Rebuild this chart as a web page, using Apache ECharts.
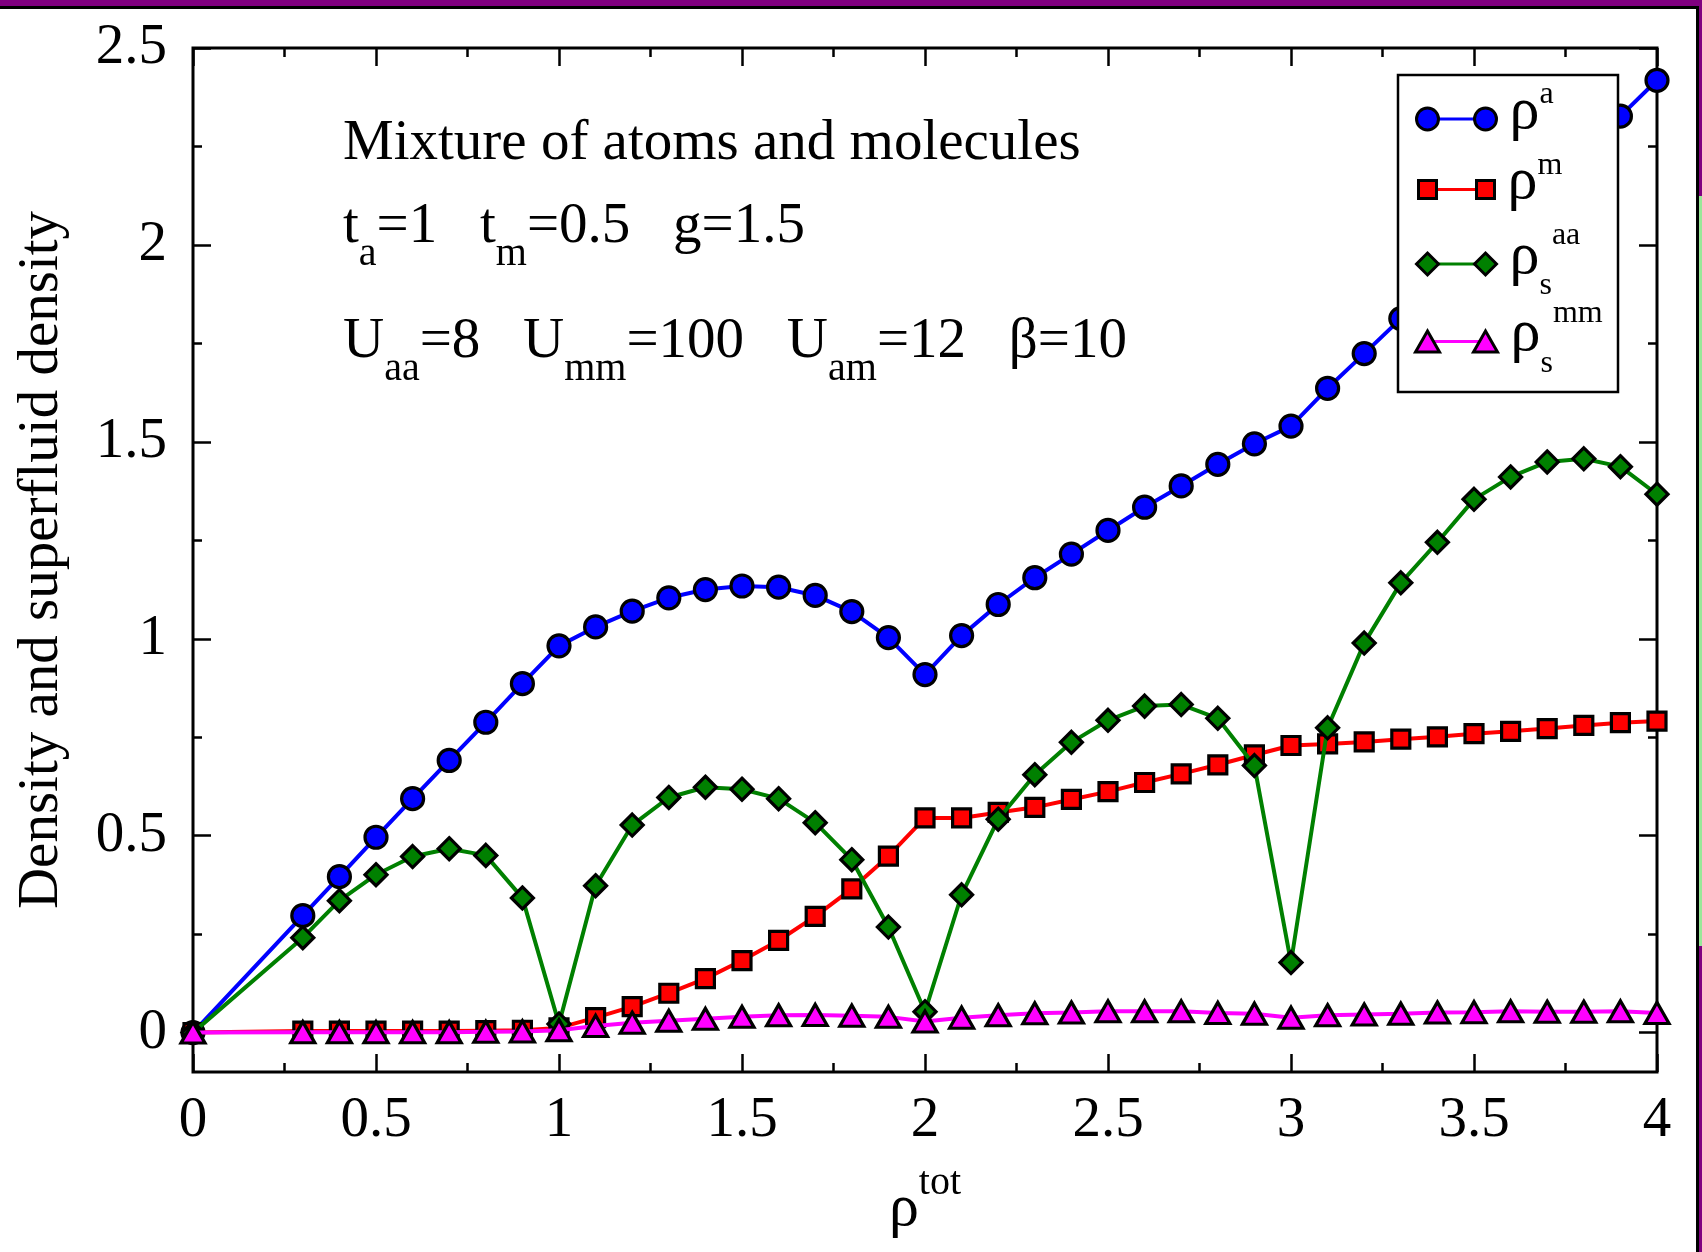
<!DOCTYPE html>
<html><head><meta charset="utf-8">
<script src="https://cdn.jsdelivr.net/npm/echarts@6/dist/echarts.min.js"></script>
<style>html,body{margin:0;padding:0;background:#fff}#c{width:1702px;height:1252px}</style>
</head><body><div id="c"></div>
<script>
// ---- data ----
const xValues = [0, 0.3, 0.4, 0.5, 0.6, 0.7, 0.8, 0.9, 1.0, 1.1, 1.2, 1.3, 1.4, 1.5, 1.6, 1.7, 1.8, 1.9, 2.0,
  2.1, 2.2, 2.3, 2.4, 2.5, 2.6, 2.7, 2.8, 2.9, 3.0, 3.1, 3.2, 3.3, 3.4, 3.5, 3.6, 3.7, 3.8, 3.9, 4.0];
const rhoA = [0, 0.297, 0.396, 0.496, 0.594, 0.691, 0.788, 0.886, 0.982, 1.030, 1.070, 1.104, 1.125, 1.134, 1.131, 1.110, 1.069, 1.003, 0.909,
  1.008, 1.087, 1.155, 1.215, 1.275, 1.334, 1.388, 1.443, 1.495, 1.540, 1.636, 1.724, 1.813, 1.899, 1.985, 2.070, 2.156, 2.240, 2.327, 2.418];
const rhoM = [0, 0.004, 0.004, 0.004, 0.004, 0.004, 0.005, 0.006, 0.012, 0.038, 0.066, 0.100, 0.137, 0.183, 0.234, 0.295, 0.365, 0.448, 0.545,
  0.545, 0.559, 0.572, 0.592, 0.612, 0.635, 0.657, 0.680, 0.705, 0.729, 0.733, 0.738, 0.745, 0.751, 0.759, 0.765, 0.772, 0.780, 0.787, 0.791];
const rhoSaa = [0, 0.241, 0.335, 0.401, 0.447, 0.467, 0.450, 0.342, 0.022, 0.373, 0.527, 0.597, 0.623, 0.618, 0.594, 0.533, 0.439, 0.268, 0.053,
  0.350, 0.542, 0.655, 0.737, 0.793, 0.829, 0.833, 0.798, 0.678, 0.178, 0.774, 0.989, 1.142, 1.245, 1.354, 1.411, 1.449, 1.457, 1.437, 1.367];
const rhoSmm = [0, 0.001, 0.001, 0.001, 0.001, 0.001, 0.002, 0.003, 0.006, 0.017, 0.025, 0.030, 0.035, 0.040, 0.044, 0.045, 0.043, 0.040, 0.028,
  0.038, 0.044, 0.049, 0.051, 0.054, 0.054, 0.054, 0.050, 0.048, 0.038, 0.044, 0.046, 0.048, 0.051, 0.052, 0.054, 0.053, 0.053, 0.054, 0.050];
const yMajorTicks = [0, 0.5, 1, 1.5, 2, 2.5];
const yMinorTicks = [0.25, 0.75, 1.25, 1.75, 2.25];
const seriesNames = ['rho_a', 'rho_m', 'rho_s_aa', 'rho_s_mm'];
const legendLabels = ['{r|ρ}{p|a}', '{r|ρ}{p|m}', '{r|ρ}{b|s}{q|aa}', '{r|ρ}{b|s}{q|mm}'];
const annotationLines = [
  '{n|Mixture of atoms and molecules}',
  '{n|t}{s|a}{n|=1   t}{s|m}{n|=0.5   g=1.5}',
  '{n|U}{s|aa}{n|=8   U}{s|mm}{n|=100   U}{s|am}{n|=12   β=10}'
];
const xTitle = '{r|ρ}{p|tot}';
const yTitle = 'Density and superfluid density';

// ---- styles ----
const F = '"Liberation Serif", "Times New Roman", serif';
const colors = ['#0000ff', '#ff0000', '#008000', '#ff00ff'];
const symbols = ['circle', 'rect', 'diamond', 'triangle'];
const symbolSizes = [22, 18, 22, [24, 21]];
const legendTops = [79, 149.5, 220, 297.5];
const legendIcons = [
  {path: 'path://M0,11A11,11,0,1,1,22,11A11,11,0,1,1,0,11ZM58,11A11,11,0,1,1,80,11A11,11,0,1,1,58,11Z', w: 80, h: 22, left: 1415},
  {path: 'path://M0,0H18V18H0ZM58,0H76V18H58Z', w: 76, h: 18, left: 1417},
  {path: 'path://M11,0L22,11L11,22L0,11ZM69,0L80,11L69,22L58,11Z', w: 80, h: 22, left: 1415},
  {path: 'path://M12,0L24,21L0,21ZM70,0L82,21L58,21Z', w: 82, h: 21, left: 1414}
];

function legendRich(color) {
  return {
    r: {fontFamily: F, fontSize: 60, lineHeight: 60, color, verticalAlign: 'middle', padding: [0, 0, 14, 8]},
    p: {fontFamily: F, fontSize: 32, lineHeight: 60, color, verticalAlign: 'middle', padding: [0, 0, 48, 0]},
    q: {fontFamily: F, fontSize: 32, lineHeight: 60, color, verticalAlign: 'middle', padding: [0, 0, 56, 0]},
    b: {fontFamily: F, fontSize: 32, lineHeight: 60, color, verticalAlign: 'middle', padding: [44, 0, 0, 0]}
  };
}

const allY = [rhoA, rhoM, rhoSaa, rhoSmm];
const series = allY.map((ys, i) => ({
  name: seriesNames[i], type: 'line', xAxisIndex: 0, yAxisIndex: 0,
  data: xValues.map((x, k) => [x, ys[k]]),
  symbol: symbols[i], symbolSize: symbolSizes[i], showAllSymbol: true, clip: false,
  lineStyle: {color: colors[i], width: 4},
  itemStyle: {color: colors[i], borderColor: '#000', borderWidth: 3.2},
  emphasis: {disabled: true}, z: 2 + i * 0.01
}));

const legends = [];
seriesNames.forEach((nm, i) => {
  const fmt = () => legendLabels[i];
  legends.push({
    data: [nm], selectedMode: false, orient: 'vertical', padding: 0, z: 9,
    left: 1426, top: legendTops[i], icon: 'rect', itemWidth: 58, itemHeight: 3,
    symbolKeepAspect: false,
    itemStyle: {color: colors[i], borderWidth: 0},
    formatter: fmt, textStyle: {color: 'rgba(0,0,0,0)', rich: legendRich('rgba(0,0,0,0)')}
  });
  legends.push({
    data: [nm], selectedMode: false, orient: 'vertical', padding: 0, z: 10,
    left: legendIcons[i].left, top: legendTops[i], icon: legendIcons[i].path,
    itemWidth: legendIcons[i].w, itemHeight: legendIcons[i].h,
    itemStyle: {color: colors[i], borderColor: '#000', borderWidth: 3},
    formatter: fmt, textStyle: {color: '#000', rich: legendRich('#000')}
  });
});

const labelStyle = {fontFamily: F, fontSize: 57, lineHeight: 57, color: '#000'};
const tickStyle = {color: '#000', width: 2.5};

const option = {
  animation: false,
  backgroundColor: '#fff',
  grid: {left: 193, right: 45, top: 48, bottom: 180, show: true, borderColor: '#000', borderWidth: 3,
    backgroundColor: 'transparent', containLabel: false, outerBoundsMode: 'none'},
  xAxis: [
    {type: 'value', position: 'bottom', min: 0, max: 4, interval: 0.5,
      axisLine: {show: false, onZero: false},
      axisTick: {show: true, inside: true, length: 18, lineStyle: tickStyle},
      minorTick: {show: true, splitNumber: 2, length: 9, lineStyle: tickStyle},
      axisLabel: Object.assign({margin: 21}, labelStyle),
      splitLine: {show: false}, minorSplitLine: {show: false},
      name: xTitle, nameLocation: 'middle', nameGap: 107,
      nameTextStyle: {fontFamily: F, fontSize: 60, lineHeight: 60, color: '#000',
        rich: {r: {fontFamily: F, fontSize: 60, lineHeight: 60, verticalAlign: 'middle'},
               p: {fontFamily: F, fontSize: 40, lineHeight: 60, verticalAlign: 'middle', padding: [0, 0, 51, 0]}}}
    },
    {type: 'value', position: 'top', min: 0, max: 4, interval: 0.5,
      axisLine: {show: false, onZero: false},
      axisTick: {show: true, inside: true, length: 18, lineStyle: tickStyle},
      minorTick: {show: true, splitNumber: 2, length: 9, lineStyle: tickStyle},
      axisLabel: {show: false}, splitLine: {show: false}
    }
  ],
  yAxis: [
    {type: 'value', position: 'left', min: -0.1, max: 2.5,
      axisLine: {show: false, onZero: false},
      axisTick: {show: true, inside: true, length: 18, lineStyle: tickStyle, customValues: yMajorTicks},
      axisLabel: Object.assign({margin: 26, customValues: yMajorTicks}, labelStyle),
      splitLine: {show: false},
      name: yTitle, nameLocation: 'middle', nameGap: 122,
      nameTextStyle: {fontFamily: F, fontSize: 57, lineHeight: 57, color: '#000'}
    },
    {type: 'value', position: 'left', min: -0.1, max: 2.5,
      axisLine: {show: false, onZero: false},
      axisTick: {show: true, inside: true, length: 9, lineStyle: tickStyle, customValues: yMinorTicks},
      axisLabel: {show: false}, splitLine: {show: false}
    },
    {type: 'value', position: 'right', min: -0.1, max: 2.5,
      axisLine: {show: false, onZero: false},
      axisTick: {show: true, inside: true, length: 18, lineStyle: tickStyle, customValues: yMajorTicks},
      axisLabel: {show: false}, splitLine: {show: false}
    },
    {type: 'value', position: 'right', min: -0.1, max: 2.5,
      axisLine: {show: false, onZero: false},
      axisTick: {show: true, inside: true, length: 9, lineStyle: tickStyle, customValues: yMinorTicks},
      axisLabel: {show: false}, splitLine: {show: false}
    }
  ],
  legend: legends,
  series: series,
  graphic: [
    {type: 'rect', z: 8, shape: {x: 1398, y: 75, width: 220, height: 317}, style: {fill: '#fff', stroke: '#000', lineWidth: 2.5}},
    {type: 'rect', z: 20, shape: {x: 0, y: 0, width: 1702, height: 6}, style: {fill: '#800080'}},
    {type: 'rect', z: 20, shape: {x: 0, y: 6, width: 1702, height: 3}, style: {fill: '#000'}},
    {type: 'rect', z: 20, shape: {x: 1696, y: 6, width: 3, height: 1246}, style: {fill: '#000'}},
    {type: 'rect', z: 20, shape: {x: 1699, y: 0, width: 3, height: 196}, style: {fill: '#800080'}},
    {type: 'rect', z: 20, shape: {x: 1699, y: 196, width: 3, height: 750}, style: {fill: '#98e898'}},
    {type: 'rect', z: 20, shape: {x: 1699, y: 946, width: 3, height: 306}, style: {fill: '#800080'}},
    {type: 'text', z: 6, x: 343, y: 144.5, style: {text: annotationLines[0], verticalAlign: 'middle',
      rich: {n: {fontFamily: F, fontSize: 57, lineHeight: 57, fill: '#000', verticalAlign: 'middle'}}}},
    {type: 'text', z: 6, x: 343, y: 227.5, style: {text: annotationLines[1], verticalAlign: 'middle',
      rich: {n: {fontFamily: F, fontSize: 57, lineHeight: 57, fill: '#000', verticalAlign: 'middle'},
             s: {fontFamily: F, fontSize: 40, lineHeight: 57, fill: '#000', verticalAlign: 'middle', padding: [53, 0, 0, 0]}}}},
    {type: 'text', z: 6, x: 343, y: 342.5, style: {text: annotationLines[2], verticalAlign: 'middle',
      rich: {n: {fontFamily: F, fontSize: 57, lineHeight: 57, fill: '#000', verticalAlign: 'middle'},
             s: {fontFamily: F, fontSize: 40, lineHeight: 57, fill: '#000', verticalAlign: 'middle', padding: [53, 0, 0, 0]}}}}
  ]
};
const chart = echarts.init(document.getElementById('c'), null, {renderer: 'canvas', width: 1702, height: 1252});
chart.setOption(option);
</script></body></html>
